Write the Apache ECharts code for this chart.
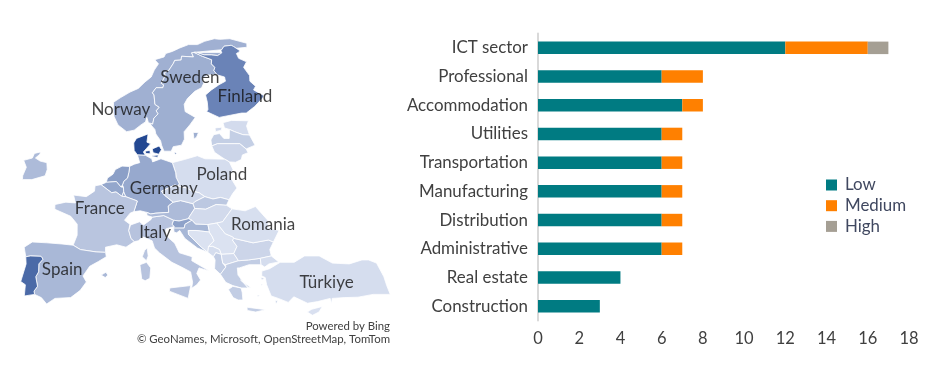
<!DOCTYPE html>
<html>
<head>
<meta charset="utf-8">
<style>html,body{margin:0;padding:0;background:#fff}#c{width:930px;height:375px}</style>
<script src="https://cdn.jsdelivr.net/npm/echarts@6/dist/echarts.min.js"></script>
</head>
<body>
<div id="c"></div>
<script>
// ---- bar chart data ----
const categories = ['ICT sector','Professional','Accommodation','Utilities','Transportation','Manufacturing','Distribution','Administrative','Real estate','Construction'];
const low    = [12,6,7,6,6,6,6,6,4,3];
const medium = [4,2,1,1,1,1,1,1,0,0];
const high   = [1,0,0,0,0,0,0,0,0,0];

// ---- map data: shade value per country ----
const countryNames  = ['Denmark','Portugal','Finland','Netherlands','Belgium','Germany','Norway','Sweden','Luxembourg','Spain','Ireland','France','Italy','Austria','Slovenia','Croatia','Slovakia','Czechia','Poland','Estonia','Latvia','Lithuania','Hungary','Romania','Bulgaria','Serbia','Bosnia','Montenegro','Albania','North Macedonia','Greece','Türkiye','Cyprus'];
const countryValues = [98,77,61,44,39,37.5,33,34,36,28,26,20,21,26,42,29,18,9,5,6,14,10,7,4,10,2,2,5,15,6,15,5,3];

// ---- map labels: name, longitude, latitude ----
const mapLabelNames = ['Norway','Sweden','Finland','Germany','Poland','France','Italy','Spain','Romania','Türkiye'];
const mapLabelLon   = [6.2,19,28.2,12.5,22,2.3,10.7,-3.4,27.4,35.7];
const mapLabelLat   = [61,65.4,62.8,50.6,52.4,48,44.9,40.3,46,38.7];

// ---- country outlines in longitude / latitude ----
const norwaySweden = [[20.55,69.06],[20.1,69.0],[20.3,68.4],[18.1,68.5],[17.9,67.95],[16.7,67.9],[16.4,67.5],[15.4,66.5],[14.5,66.1],[14.6,65.7],[13.7,64.6],[14.1,64.4],[13.9,64.0],[12.7,64.0],[11.95,63.3],[12.2,63.0],[12.2,61.7],[12.9,61.3],[12.3,60.8],[12.6,60.4],[11.8,59.8],[11.5,59.0],[11.2,59.1]];
const norwayFinland = [[28.9,69.05],[29.3,69.3],[28.3,69.9],[27.9,70.09],[26.5,69.95],[25.7,69.3],[25.8,69.0],[24.9,68.6],[23.7,68.7],[22.4,68.7],[21.0,69.05],[20.55,69.06]];
const swedenFinland = [[24.1,65.8],[23.6,66.4],[23.9,66.9],[23.4,67.4],[23.6,68.0],[22.0,68.5],[20.55,69.06]];
const rev = a => a.slice().reverse();
const outlines = {
  'Norway': [[[7.0,58.0],[5.6,58.9],[5.0,60.0],[4.9,61.0],[5.0,62.0],[6.2,62.6],[8.0,63.4],[9.5,63.9],[10.8,64.8],[12.0,65.5],[12.7,66.5],[13.6,67.4],[13.0,68.0],[14.8,68.4],[15.2,68.9],[16.5,69.2],[18.0,69.7],[19.8,70.2],[21.5,70.2],[23.0,70.7],[25.0,71.1],[26.0,71.0],[28.0,71.1],[31.0,70.4],[30.8,69.8],...rev(norwayFinland),...norwaySweden,[10.8,59.2],[10.6,59.9],[10.3,59.3],[9.5,58.9],[8.3,58.2]]],
  'Sweden': [[...norwaySweden,[11.2,58.9],[11.8,58.3],[11.9,57.7],[12.6,56.8],[12.7,56.2],[13.0,55.4],[14.2,55.4],[14.6,56.0],[16.0,56.2],[16.6,57.0],[16.7,58.0],[17.8,58.9],[18.9,59.9],[17.3,60.7],[17.3,61.7],[18.0,62.5],[19.5,63.5],[20.8,64.0],[21.3,64.6],[21.2,65.3],[22.3,65.8],...swedenFinland],[[18.2,57.9],[19.1,57.9],[18.7,57.3],[18.2,57.0]]],
  'Finland': [[[24.1,65.8],[25.3,65.5],[25.3,64.9],[24.0,64.4],[22.5,63.7],[21.3,63.0],[21.4,62.0],[21.3,61.0],[21.0,60.7],[22.0,60.3],[23.0,59.9],[25.0,60.2],[27.0,60.5],[27.8,60.5],[29.5,61.4],[31.3,62.6],[31.6,62.9],[30.0,63.7],[30.5,64.2],[29.7,64.9],[29.9,65.7],[29.2,66.9],[30.0,67.7],[28.7,68.2],[28.5,68.9],...norwayFinland,...rev(swedenFinland)]],
  'Denmark': [[[8.6,54.9],[8.1,55.5],[8.1,56.5],[8.6,57.1],[10.6,57.7],[10.3,56.6],[10.9,56.4],[10.2,55.8],[9.6,55.3],[9.9,54.85]],[[11.1,55.7],[12.3,56.1],[12.6,55.6],[12.1,55.0],[11.2,55.2]],[[9.9,55.4],[10.7,55.5],[10.7,55.05],[10.0,55.1]],[[11.0,54.8],[12.0,54.9],[11.9,54.6],[11.0,54.7]],[[14.7,55.3],[15.1,55.1],[14.8,55.0]]],
  'Estonia': [[[23.5,59.2],[25,59.5],[27.9,59.45],[27.4,58.75],[27.6,57.55],[26.5,57.6],[25.2,58.0],[24.4,58.3],[23.6,58.5]],[[22,58.5],[23.2,58.6],[23,58.2],[22,58.0]]],
  'Latvia': [[[21.0,56.1],[21.0,56.9],[21.6,57.6],[22.6,57.75],[23.2,57.1],[24.1,57.1],[24.4,58.3],[25.2,58.0],[26.5,57.6],[27.6,57.55],[28.2,56.2],[26.6,55.7],[25.7,56.4],[24.9,56.4],[22.0,56.4]]],
  'Lithuania': [[[21.0,56.1],[22.0,56.4],[24.9,56.4],[25.7,56.4],[26.6,55.7],[26.8,55.2],[25.8,54.9],[25.5,54.3],[24.5,53.95],[23.5,54.0],[22.8,54.35],[21.3,55.25]]],
  'Poland': [[[14.2,53.9],[16.2,54.3],[18.4,54.8],[19.6,54.4],[22.8,54.35],[23.5,54.0],[23.9,53.0],[23.6,52.6],[23.2,52.2],[23.6,51.5],[24.1,50.6],[23.3,49.9],[22.6,49.1],[21.3,49.4],[20.1,49.2],[18.85,49.5],[18.0,50.0],[16.9,50.2],[16.2,50.6],[14.8,50.85],[15.0,51.2],[14.6,52.0],[14.6,52.6]]],
  'Germany': [[[8.6,54.9],[9.9,54.85],[10.9,54.4],[11.0,54.0],[12.4,54.4],[14.2,53.9],[14.6,52.6],[14.6,52.0],[15.0,51.2],[14.8,50.85],[14.3,51.0],[12.1,50.2],[12.5,49.7],[13.8,48.8],[13.0,48.3],[13.0,47.5],[11.0,47.4],[10.2,47.3],[9.6,47.5],[8.6,47.7],[7.6,47.6],[8.2,48.95],[6.4,49.5],[6.1,50.1],[6.1,50.7],[5.95,51.0],[6.2,51.5],[6.8,51.9],[7.05,52.6],[7.2,53.2],[7.2,53.4],[8.0,53.7],[8.9,53.9]]],
  'Netherlands': [[[7.2,53.2],[7.05,52.6],[6.8,51.9],[6.2,51.5],[5.95,51.0],[5.7,50.75],[5.0,51.45],[3.4,51.35],[3.6,51.9],[4.5,52.4],[4.9,53.0],[6.0,53.45],[7.2,53.4]]],
  'Belgium': [[[3.4,51.35],[5.0,51.45],[5.7,50.75],[6.1,50.7],[6.1,50.1],[5.8,49.55],[4.9,50.1],[4.2,50.0],[2.55,51.05]]],
  'Luxembourg': [[[6.1,50.1],[6.4,49.5],[5.8,49.55]]],
  'France': [[[2.55,51.05],[4.2,50.0],[4.9,50.1],[5.8,49.55],[6.4,49.5],[8.2,48.95],[7.6,47.6],[7.0,47.4],[6.1,46.5],[6.9,46.0],[7.0,45.9],[6.7,45.2],[7.0,44.2],[7.5,43.8],[6.2,43.1],[4.8,43.4],[3.1,43.1],[3.1,42.45],[1.7,42.5],[-0.7,42.8],[-1.8,43.35],[-1.2,44.6],[-1.2,46.0],[-2.2,47.0],[-4.7,47.9],[-4.7,48.5],[-3.0,48.8],[-1.5,48.7],[-1.8,49.7],[0.2,49.5],[1.5,50.2],[1.6,50.9]],[[9.0,42.7],[9.4,43.0],[9.5,42.0],[9.2,41.4],[8.6,41.9]]],
  'Spain': [[[-1.8,43.35],[-0.7,42.8],[1.7,42.5],[3.1,42.45],[3.2,41.9],[2.0,41.3],[0.7,40.7],[-0.3,39.5],[0.2,38.75],[-0.7,37.7],[-2.1,36.8],[-4.4,36.7],[-5.6,36.0],[-6.4,36.8],[-7.4,37.2],[-7.5,37.6],[-7.0,38.2],[-7.3,39.4],[-6.9,40.0],[-6.9,41.0],[-6.3,41.6],[-6.6,41.95],[-8.2,42.0],[-8.9,41.9],[-9.2,43.1],[-8.0,43.75],[-5.8,43.65],[-3.5,43.5]],[[2.4,39.6],[3.1,39.95],[3.4,39.6],[3.0,39.3]]],
  'Portugal': [[[-8.9,41.9],[-8.2,42.0],[-6.6,41.95],[-6.3,41.6],[-6.9,41.0],[-6.9,40.0],[-7.3,39.4],[-7.0,38.2],[-7.5,37.6],[-7.4,37.2],[-8.9,37.0],[-8.8,38.4],[-9.5,38.8],[-8.8,41.0]]],
  'Ireland': [[[-6.1,53.0],[-6.2,53.9],[-7.3,54.1],[-8.1,54.5],[-7.4,55.0],[-7.3,55.3],[-8.3,55.1],[-8.6,54.5],[-10,54.2],[-9.5,53.3],[-10,52.2],[-10,51.7],[-8.5,51.7],[-6.4,52.2]]],
  'Italy': [[[7.5,43.8],[7.0,44.2],[6.7,45.2],[7.0,45.9],[8.4,46.3],[9.0,45.9],[10.2,46.6],[10.4,46.9],[12.2,47.1],[13.7,46.5],[13.4,46.0],[13.7,45.7],[12.4,45.4],[12.3,44.6],[13.6,43.6],[14.2,42.4],[16.1,41.9],[16.0,41.4],[18.5,40.1],[17.0,40.5],[16.6,39.8],[17.1,39.0],[16.5,38.4],[15.7,37.95],[15.9,38.7],[15.7,40.0],[14.4,40.6],[13.0,41.2],[11.2,42.4],[10.5,43.0],[10.2,43.9],[8.8,44.4],[8.1,43.9]],[[12.5,38.0],[15.6,38.3],[15.1,36.7],[12.4,37.6]],[[8.2,40.9],[9.2,41.2],[9.8,40.5],[9.6,39.2],[8.9,38.9],[8.4,39.1]]],
  'Austria': [[[9.6,47.5],[10.2,47.3],[11.0,47.4],[13.0,47.5],[13.0,48.3],[13.8,48.8],[15.0,49.0],[16.9,48.6],[17.1,48.0],[16.1,46.9],[16.0,46.7],[14.5,46.4],[13.7,46.5],[12.2,47.1],[10.4,46.9],[9.6,47.1]]],
  'Czechia': [[[12.1,50.2],[14.3,51.0],[14.8,50.85],[16.2,50.6],[16.9,50.2],[18.0,50.0],[18.85,49.5],[17.2,48.85],[16.9,48.6],[15.0,49.0],[13.8,48.8],[12.5,49.7]]],
  'Slovakia': [[[16.9,48.6],[17.2,48.85],[18.85,49.5],[20.1,49.2],[21.3,49.4],[22.6,49.1],[22.1,48.4],[20.5,48.5],[18.8,47.9],[17.1,48.0]]],
  'Hungary': [[[17.1,48.0],[18.8,47.9],[20.5,48.5],[22.1,48.4],[22.9,47.95],[21.2,46.3],[20.3,46.15],[18.9,45.95],[17.0,46.0],[16.5,46.5],[16.0,46.7],[16.1,46.9]]],
  'Slovenia': [[[13.7,46.5],[14.5,46.4],[16.0,46.7],[16.5,46.5],[15.4,46.0],[15.2,45.5],[13.6,45.5],[13.7,45.7],[13.4,46.0]]],
  'Croatia': [[[13.6,45.5],[15.2,45.5],[15.4,46.0],[16.5,46.5],[17.0,46.0],[18.9,45.95],[19.0,45.2],[19.0,45.0],[17.0,45.2],[15.8,45.2],[15.8,44.7],[17.6,43.1],[18.5,42.45],[17.0,43.0],[15.2,44.2],[14.5,45.2],[14.0,44.9],[13.6,45.0]]],
  'Bosnia': [[[15.8,45.2],[17.0,45.2],[19.0,45.0],[19.4,44.4],[19.6,43.9],[18.7,43.2],[18.5,42.45],[17.6,43.1],[15.8,44.7]]],
  'Serbia': [[[18.9,45.95],[20.3,46.15],[21.4,44.8],[22.5,44.4],[22.7,44.2],[22.4,44.0],[23.0,43.2],[22.4,42.3],[21.5,42.25],[20.5,42.2],[20.3,42.8],[19.3,43.2],[18.7,43.2],[19.6,43.9],[19.4,44.4],[19.0,45.0],[19.0,45.2]]],
  'Montenegro': [[[18.5,42.45],[18.7,43.2],[19.3,43.2],[20.3,42.8],[20.5,42.2],[19.7,42.4],[19.3,41.9]]],
  'Albania': [[[19.3,41.9],[19.7,42.4],[20.5,42.2],[20.6,41.1],[21.0,40.6],[20.1,39.7],[19.3,40.4],[19.5,41.5]]],
  'North Macedonia': [[[20.5,42.2],[21.5,42.25],[22.4,42.3],[23.0,41.4],[21.0,40.9],[20.6,41.1]]],
  'Greece': [[[20.1,39.7],[21.0,40.6],[21.0,40.9],[23.0,41.4],[24.5,41.5],[26.3,41.7],[26.3,40.9],[24.5,40.9],[23.0,40.5],[22.7,40.5],[22.7,39.6],[23.2,39.0],[24.0,38.0],[23.0,38.0],[21.8,38.3],[20.8,38.7]],[[23.0,38.0],[23.1,37.4],[23.1,36.5],[22.4,36.5],[21.7,36.8],[21.1,37.8],[21.8,38.2]],[[23.6,35.6],[26.3,35.3],[24.8,35.0],[23.6,35.2]],[[23.0,39.0],[24.5,38.0],[24.0,38.1]],[[26.0,39.3],[26.6,39.2],[26.2,39.0]],[[27.8,36.4],[28.2,36.4],[27.9,36.0]],[[25.2,37.1],[25.6,37.1],[25.4,36.9]],[[26.0,38.5],[26.2,38.5],[26.0,38.2]]],
  'Bulgaria': [[[22.7,44.2],[25.5,43.65],[27.9,44.0],[28.6,43.75],[27.9,42.8],[28.0,42.0],[26.3,41.7],[24.5,41.5],[23.0,41.4],[22.4,42.3],[23.0,43.2],[22.4,44.0]]],
  'Romania': [[[20.3,46.15],[21.2,46.3],[22.9,47.95],[24.9,47.7],[26.6,48.25],[28.2,46.5],[28.1,45.5],[29.7,45.2],[28.6,43.75],[27.9,44.0],[25.5,43.65],[22.7,44.2],[22.5,44.4],[21.4,44.8]]],
  'Türkiye': [[[26.2,39.5],[26.7,39.3],[26.8,38.4],[27.3,37.0],[28.3,36.7],[29.7,36.2],[30.6,36.9],[32.5,36.1],[34.0,36.3],[35.9,36.7],[36.0,36.0],[36.2,36.7],[38,36.8],[40,36.85],[42.3,37.2],[44.8,37.2],[44.5,38.3],[44.3,39.4],[43.6,41.1],[42.5,41.5],[41.5,41.5],[39.5,41.0],[37.0,41.1],[35.2,42.0],[33.0,42.0],[31.3,41.2],[29.2,41.2],[27.5,40.4],[26.3,40.1]],[[26.3,40.9],[26.3,41.7],[28.0,42.0],[29.0,41.25],[27.5,41.0],[26.8,40.6]]],
  'Cyprus': [[[32.3,35.0],[33.0,35.35],[34.6,35.7],[34.0,35.0],[33.0,34.6]]]
};

// ---- Robinson projection, as used by the source map ----
const PLEN = [1,.9986,.9954,.99,.9822,.973,.96,.9427,.9216,.8962,.8679,.835,.7986,.7597,.7186,.6732,.6213,.5722,.5322];
const PDFE = [0,.062,.124,.186,.248,.31,.372,.434,.4958,.5571,.6176,.6769,.7346,.7903,.8435,.8936,.9394,.9761,1];
const interp = (t, lat) => { const a = Math.min(Math.abs(lat), 89.99) / 5, i = Math.floor(a); return t[i] + (t[i + 1] - t[i]) * (a - i); };
const robinson = {
  project: ([lon, lat]) => [85 + 7.3 * interp(PLEN, lat) * lon, 304 - (interp(PDFE, lat) - .4464) * 650],
  unproject: ([x, y]) => {
    let lo = 0, hi = 89.9;
    for (let i = 0; i < 30; i++) { const m = (lo + hi) / 2; if (304 - (interp(PDFE, m) - .4464) * 650 > y) lo = m; else hi = m; }
    const lat = (lo + hi) / 2;
    return [(x - 85) / (7.3 * interp(PLEN, lat)), lat];
  }
};

const closeRing = r => [...r, r[0]];
const features = Object.keys(outlines).map(name => ({
  type: 'Feature', properties: { name },
  geometry: { type: 'MultiPolygon', coordinates: outlines[name].map(r => [closeRing(r)]) }
}));
echarts.registerMap('europe', { type: 'FeatureCollection', features });

let x0 = Infinity, x1 = -Infinity, y0 = Infinity, y1 = -Infinity;
Object.values(outlines).forEach(rs => rs.forEach(r => r.forEach(p => {
  const [x, y] = robinson.project(p);
  x0 = Math.min(x0, x); x1 = Math.max(x1, x); y0 = Math.min(y0, y); y1 = Math.max(y1, y);
})));

const FONT = 'Lato';
const chart = echarts.init(document.getElementById('c'), null, { renderer: 'canvas' });
chart.setOption({
  animation: false,
  textStyle: { fontFamily: FONT },
  geo: {
    map: 'europe', projection: robinson, roam: false, silent: true,
    left: x0, top: y0, width: x1 - x0, height: y1 - y0,
    itemStyle: { areaColor: '#dfe5f3', borderColor: '#ffffff', borderWidth: 0.8 },
    emphasis: { disabled: true }, label: { show: false }
  },
  visualMap: {
    show: false, type: 'continuous', seriesIndex: 0, min: 0, max: 100,
    inRange: { color: ['#dfe5f3', '#1f4590'] }
  },
  grid: { left: 538, top: 33.5, width: 371, height: 287, containLabel: false },
  xAxis: {
    type: 'value', min: 0, max: 18, interval: 2,
    axisLine: { show: false }, axisTick: { show: false }, splitLine: { show: false },
    axisLabel: { color: '#404040', fontFamily: FONT, fontSize: 16.5, margin: 10 }
  },
  yAxis: {
    type: 'category', inverse: true, data: categories,
    axisLine: { show: true, lineStyle: { color: '#d9d9d9', width: 2 } }, axisTick: { show: false },
    axisLabel: { color: '#404040', fontFamily: FONT, fontSize: 16.9, margin: 10, padding: [0, 0, 2, 0] }
  },
  legend: {
    orient: 'vertical', left: 821, top: 171.5, itemWidth: 11, itemHeight: 11, itemGap: 3.7,
    icon: 'rect', data: ['Low', 'Medium', 'High'],
    textStyle: { color: '#404860', fontFamily: FONT, fontSize: 16.9, lineHeight: 14, padding: [0, 0, 0, 3] }
  },
  series: [
    {
      type: 'map', geoIndex: 0, silent: true,
      data: countryNames.map((n, i) => ({ name: n, value: countryValues[i] }))
    },
    {
      type: 'scatter', coordinateSystem: 'geo', geoIndex: 0, silent: true, symbolSize: 1,
      itemStyle: { color: 'rgba(0,0,0,0)' }, z: 10,
      data: mapLabelNames.map((n, i) => ({ name: n, value: [mapLabelLon[i], mapLabelLat[i]] })),
      label: { show: true, position: 'inside', formatter: '{b}', color: '#141414', fontFamily: FONT, fontSize: 17 }
    },
    { name: 'Low', type: 'bar', stack: 's', barWidth: 12.5, data: low, itemStyle: { color: '#007b82' } },
    { name: 'Medium', type: 'bar', stack: 's', barWidth: 12.5, data: medium, itemStyle: { color: '#ff8000' } },
    { name: 'High', type: 'bar', stack: 's', barWidth: 12.5, data: high, itemStyle: { color: '#a59f94' } }
  ],
  graphic: [
    { type: 'text', right: 540, top: 321, style: { text: 'Powered by Bing', fill: '#404040', font: '11.4px Lato', textAlign: 'right' } },
    { type: 'text', right: 540, top: 334, style: { text: '© GeoNames, Microsoft, OpenStreetMap, TomTom', fill: '#404040', font: '11.4px Lato', textAlign: 'right' } }
  ]
});
</script>
</body>
</html>
